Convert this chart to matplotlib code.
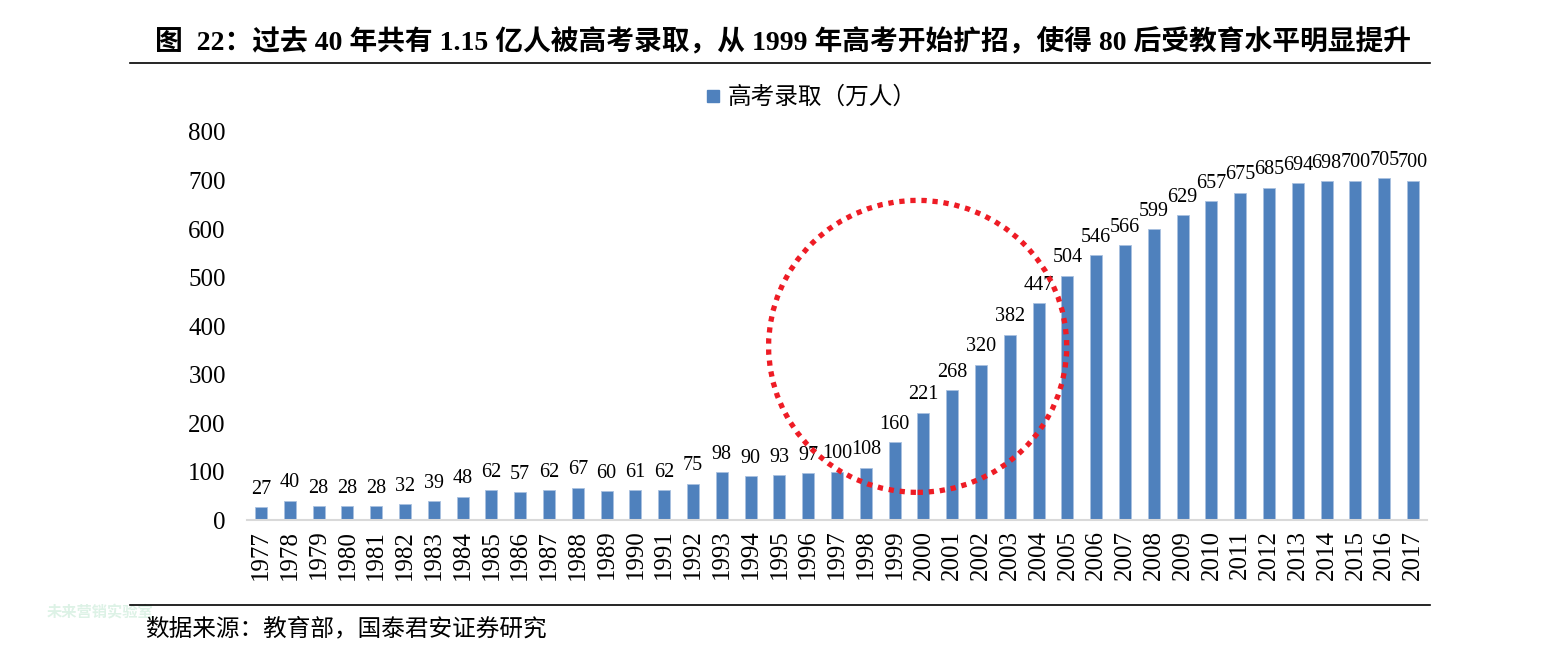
# 高考录取人数 1977-2017
import matplotlib
matplotlib.use('Agg')
import matplotlib.pyplot as plt
from matplotlib.patches import Ellipse
from matplotlib.lines import Line2D

plt.rcParams['font.family'] = ['Liberation Serif', 'Noto Sans CJK SC']

# データ
years = [str(y) for y in range(1977, 2018)]
admitted = [27, 40, 28, 28, 28, 32, 39, 48, 62, 57, 62, 67, 60, 61, 62, 75,
            98, 90, 93, 97, 100, 108, 160, 221, 268, 320, 382, 447, 504, 546,
            566, 599, 629, 657, 675, 685, 694, 698, 700, 705, 700]
yticks = [0, 100, 200, 300, 400, 500, 600, 700, 800]

title = '图  22：过去 40 年共有 1.15 亿人被高考录取，从 1999 年高考开始扩招，使得 80 后受教育水平明显提升'
series_name = '高考录取（万人）'
source = '数据来源：教育部，国泰君安证券研究'

bar_color = '#4F81BD'

fig = plt.figure(figsize=(15.46, 6.6), dpi=100)
ax = fig.add_axes([0.1595, 0.2121, 0.7638, 0.5879])

x = list(range(len(years)))
ax.bar(x, admitted, width=0.42, color=bar_color, edgecolor='#A9C1E0', linewidth=0.6, zorder=2)
for xi, v in zip(x, admitted):
    ax.annotate(str(v), (xi, v), xytext=(0, 6), textcoords='offset points',
                ha='center', va='bottom', fontsize=14.5)

ax.set_xlim(-0.5, len(years) - 0.5)
ax.set_ylim(0, 800)
ax.set_yticks(yticks)
ax.set_yticklabels([str(t) for t in yticks], fontsize=18)
ax.set_xticks(x)
ax.set_xticklabels(years, rotation=90, fontsize=18)
ax.tick_params(axis='both', length=0)
ax.tick_params(axis='y', pad=15)
ax.tick_params(axis='x', pad=7)
for s in ['top', 'right', 'left']:
    ax.spines[s].set_visible(False)
ax.spines['bottom'].set_color('#D9D9D9')
ax.spines['bottom'].set_linewidth(1.5)

# 赤い点線の円
circle = Ellipse((22.8, 358), width=10.35, height=602, fill=False,
                 edgecolor='#EE1C25', linewidth=3.8, linestyle=(0, (1, 1.1)),
                 clip_on=False, zorder=5)
ax.add_patch(circle)

# 凡例
handle = Line2D([], [], marker='s', color='none', markerfacecolor=bar_color,
                markeredgecolor=bar_color, markersize=9)
fig.legend([handle], [series_name], loc='center', bbox_to_anchor=(0.524, 0.852),
           frameon=False, handletextpad=0.2, handlelength=0.8,
           prop={'family': ['Noto Sans CJK SC'], 'size': 17})

# タイトルと罫線
fig.text(0.5065, 0.936, title, ha='center', va='center', fontsize=20, fontweight='bold')
fig.add_artist(Line2D([0.084, 0.925], [0.904, 0.904], color='black', linewidth=1.2,
                      transform=fig.transFigure))
fig.add_artist(Line2D([0.084, 0.925], [0.083, 0.083], color='black', linewidth=1.2,
                      transform=fig.transFigure))
fig.text(0.094, 0.048, source, ha='left', va='center', fontsize=17,
         family=['Noto Sans CJK SC'])

# 透かし
fig.text(0.03, 0.072, '未来营销实验室', ha='left', va='center', fontsize=11,
         fontweight='bold', color='#DDF2E6', family=['Noto Sans CJK SC'], zorder=0)

fig.savefig('out.png', dpi=100)
print('finish successfully')
